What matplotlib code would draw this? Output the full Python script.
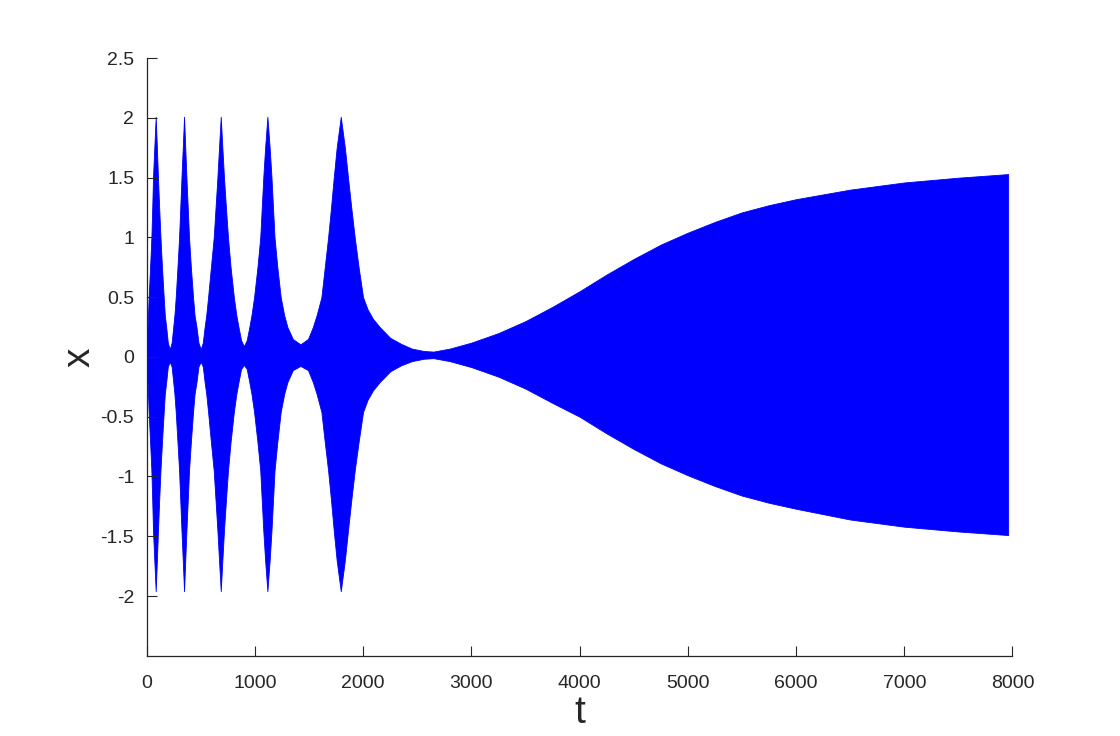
import matplotlib
matplotlib.use("Agg")
import matplotlib.pyplot as plt

# envelope (upper / lower edge) of the dense oscillation x(t),
# read off the reference picture piece by piece

# start and first two bursts
t_a = [0, 10, 18, 31, 43, 51, 58, 70, 83, 94, 104, 115, 127, 141, 157, 167,
       180, 195, 213, 230, 245, 256, 268, 284, 299, 310, 321, 333, 345]
up_a = [0.12, 0.3, 0.5, 0.75, 1.0, 1.25, 1.5, 1.75, 2.01, 1.75, 1.5, 1.25,
        1.0, 0.75, 0.5, 0.35, 0.25, 0.12, 0.064, 0.12, 0.25, 0.35, 0.5, 0.75,
        1.0, 1.25, 1.5, 1.75, 2.01]
lo_a = [-0.08, -0.26, -0.46, -0.71, -0.95, -1.20, -1.45, -1.70, -1.96, -1.70,
        -1.45, -1.20, -0.95, -0.71, -0.46, -0.31, -0.21, -0.08, -0.04, -0.08,
        -0.21, -0.31, -0.46, -0.71, -0.95, -1.20, -1.45, -1.70, -1.96]

# third burst
t_b = [356, 367, 379, 391, 408, 428, 442, 460, 478, 499, 518, 535, 550, 567,
       593, 619, 636, 653, 668, 684]
up_b = [1.75, 1.5, 1.25, 1.0, 0.75, 0.5, 0.35, 0.25, 0.12, 0.066, 0.12, 0.25,
        0.35, 0.5, 0.75, 1.0, 1.25, 1.5, 1.75, 2.01]
lo_b = [-1.70, -1.45, -1.20, -0.95, -0.71, -0.46, -0.31, -0.21, -0.08, -0.04,
        -0.08, -0.21, -0.31, -0.46, -0.71, -0.95, -1.20, -1.45, -1.70, -1.96]

# fourth burst
t_c = [699, 714, 732, 751, 775, 805, 828, 848, 872, 898, 924, 948, 968, 992,
       1023, 1049, 1063, 1077, 1094, 1115]
up_c = [1.75, 1.5, 1.25, 1.0, 0.75, 0.5, 0.35, 0.25, 0.14, 0.09, 0.14, 0.25,
        0.35, 0.5, 0.75, 1.0, 1.25, 1.5, 1.75, 2.01]
lo_c = [-1.70, -1.45, -1.20, -0.95, -0.71, -0.46, -0.31, -0.21, -0.10, -0.067,
        -0.10, -0.21, -0.31, -0.46, -0.71, -0.95, -1.20, -1.45, -1.70, -1.96]

# fifth burst
t_d = [1136, 1153, 1167, 1181, 1207, 1238, 1270, 1300, 1350, 1420, 1490, 1535,
       1570, 1614, 1645, 1676, 1703, 1728, 1755, 1793]
up_d = [1.75, 1.5, 1.25, 1.0, 0.75, 0.5, 0.35, 0.25, 0.15, 0.106, 0.15, 0.25,
        0.35, 0.5, 0.75, 1.0, 1.25, 1.5, 1.75, 2.01]
lo_d = [-1.70, -1.45, -1.20, -0.95, -0.71, -0.46, -0.31, -0.21, -0.11, -0.075,
        -0.11, -0.21, -0.31, -0.46, -0.71, -0.95, -1.20, -1.45, -1.70, -1.96]

# decay after the last burst
t_e = [1831, 1860, 1890, 1922, 1958, 1999, 2040, 2090, 2153, 2250, 2350, 2450,
       2560, 2650]
up_e = [1.75, 1.5, 1.25, 1.0, 0.75, 0.5, 0.4, 0.32, 0.25, 0.16, 0.11, 0.07,
        0.05, 0.045]
lo_e = [-1.70, -1.45, -1.20, -0.95, -0.71, -0.46, -0.36, -0.28, -0.21, -0.12,
        -0.07, -0.035, -0.015, -0.01]

# slow growth to the final amplitude
t_f = [2800, 3000, 3250, 3500, 3750, 4000, 4250, 4500, 4750, 5000, 5250, 5500,
       5750, 6000, 6500, 7000, 7500, 7960]
up_f = [0.07, 0.12, 0.2, 0.3, 0.42, 0.55, 0.69, 0.82, 0.94, 1.04, 1.13, 1.21,
        1.27, 1.32, 1.40, 1.46, 1.50, 1.53]
lo_f = [-0.035, -0.085, -0.165, -0.265, -0.385, -0.5, -0.64, -0.77, -0.89,
        -0.99, -1.08, -1.16, -1.22, -1.27, -1.36, -1.42, -1.46, -1.49]

t_env = t_a + t_b + t_c + t_d + t_e + t_f
x_upper = up_a + up_b + up_c + up_d + up_e + up_f
x_lower = lo_a + lo_b + lo_c + lo_d + lo_e + lo_f

x_ticks = [0, 1000, 2000, 3000, 4000, 5000, 6000, 7000, 8000]
y_ticks = [-2, -1.5, -1, -0.5, 0, 0.5, 1, 1.5, 2, 2.5]
y_tick_labels = ['-2', '-1.5', '-1', '-0.5', '0', '0.5', '1', '1.5', '2', '2.5']

plt.rcParams['font.family'] = ['Liberation Sans', 'DejaVu Sans']

fig = plt.figure(figsize=(11.2, 7.36), dpi=100)
ax = fig.add_axes([0.131, 0.109, 0.773, 0.812])

ax.fill_between(t_env, x_lower, x_upper, color=(0, 0, 1), linewidth=0.6,
                edgecolor=(0, 0, 1))

ax.set_xlim(0, 8000)
ax.set_ylim(-2.5, 2.5)
ax.set_xticks(x_ticks)
ax.set_xticklabels([str(v) for v in x_ticks])
ax.set_yticks(y_ticks)
ax.set_yticklabels(y_tick_labels)

for side in ['top', 'right']:
    ax.spines[side].set_visible(False)
for side in ['left', 'bottom']:
    ax.spines[side].set_color('#262626')
    ax.spines[side].set_linewidth(0.9)

ax.tick_params(direction='in', length=7, width=0.8, colors='#262626',
               labelsize=14)
ax.tick_params(axis='x', pad=14)
ax.tick_params(axis='y', pad=9)

ax.set_xlabel('t', fontsize=28, color='#262626', labelpad=2)
ax.set_ylabel('x', fontsize=28, color='#262626', rotation=90, labelpad=2)

fig.savefig('out.png', dpi=100)
